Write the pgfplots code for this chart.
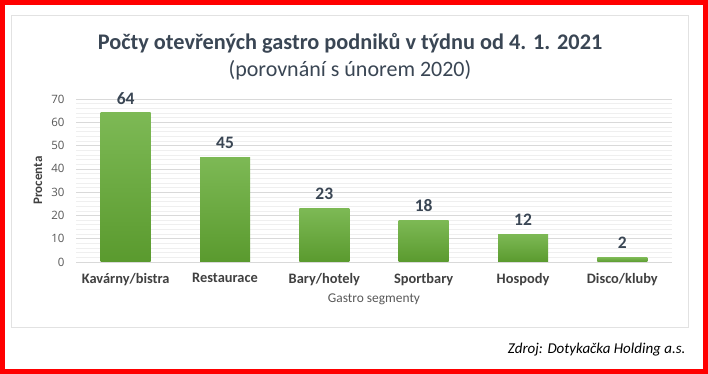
\documentclass[border=0pt]{standalone}
\usepackage{pgfplots}
\pgfplotsset{compat=1.18}
\usepackage{fontspec}
\setmainfont{Carlito}
\newfontfamily\tickfont{Open Sans}
\definecolor{framered}{HTML}{FF0000}
\definecolor{boxgrey}{HTML}{E2E2E2}
\definecolor{titlec}{HTML}{3A4654}
\definecolor{tickc}{HTML}{595959}
\definecolor{xtickc}{HTML}{404040}
\definecolor{gridmaj}{HTML}{D9D9D9}
\definecolor{gridmin}{HTML}{EFEFEF}
\definecolor{bartop}{HTML}{7DB955}
\definecolor{barbot}{HTML}{5A9A2E}
\begin{document}
\begin{tikzpicture}
\fill[white] (0pt,0pt) rectangle (708pt,374pt);
\draw[framered, line width=5pt] (2.5pt,2.5pt) rectangle (705.5pt,371.5pt);
\draw[boxgrey, line width=0.8pt] (11pt,47pt) rectangle (688pt,359pt);
\node[font=\bfseries\fontsize{22.3}{26}\selectfont, text=titlec] at (350pt,331pt) {Počty otevřených gastro podniků v týdnu od 4. 1. 2021};
\node[font=\fontsize{22}{26}\selectfont, text=titlec] at (350pt,304pt) {(porovnání s únorem 2020)};
\node[font=\itshape\fontsize{15}{18}\selectfont, anchor=east] at (689pt,24pt) {Zdroj: Dotykačka Holding a.s.};
\begin{axis}[
  at={(76pt,112pt)}, anchor=south west,
  scale only axis, width=596pt, height=163pt,
  xmin=-0.5, xmax=5.5, ymin=0, ymax=70,
  xtick={0,1,2,3,4,5},
  xticklabels={Kavárny/bistra,Restaurace,Bary/hotely,Sportbary,Hospody,Disco/kluby},
  ytick={0,10,...,70},
  minor y tick num=4,
  ymajorgrids, yminorgrids,
  major grid style={draw=gridmaj, line width=0.6pt},
  minor grid style={draw=gridmin, line width=0.5pt},
  axis x line*=bottom, axis y line*=left,
  x axis line style={draw=gridmaj, line width=0.8pt},
  y axis line style={draw=none},
  major tick length=0pt, minor tick length=0pt,
  tick style={draw=none},
  /pgf/number format/assume math mode=true,
  yticklabel style={font=\tickfont\fontsize{11.5}{13}\selectfont, text=tickc, xshift=-8pt},
  xticklabel style={font=\bfseries\fontsize{14.4}{17}\selectfont, text=xtickc, yshift=-8pt},
  xlabel={Gastro segmenty},
  xlabel style={at={(axis description cs:0.5,0)}, anchor=center, yshift=-37pt, font=\fontsize{13.4}{16}\selectfont, text=tickc},
  ylabel={Procenta},
  ylabel style={at={(axis description cs:-0.064,0.5)}, anchor=center, font=\bfseries\fontsize{13}{15}\selectfont, text=xtickc},
  nodes near coords,
  every node near coord/.append style={font=\bfseries\fontsize{17.5}{20}\selectfont, text=titlec, yshift=5pt},
]
\addplot[ybar, bar width=50pt, draw=none, top color=bartop, bottom color=barbot] coordinates {(0,64)};
\addplot[ybar, bar width=50pt, draw=none, top color=bartop, bottom color=barbot] coordinates {(1,45)};
\addplot[ybar, bar width=50pt, draw=none, top color=bartop, bottom color=barbot] coordinates {(2,23)};
\addplot[ybar, bar width=50pt, draw=none, top color=bartop, bottom color=barbot] coordinates {(3,18)};
\addplot[ybar, bar width=50pt, draw=none, top color=bartop, bottom color=barbot] coordinates {(4,12)};
\addplot[ybar, bar width=50pt, draw=none, top color=bartop, bottom color=barbot] coordinates {(5,2)};
\end{axis}
\end{tikzpicture}
\end{document}
